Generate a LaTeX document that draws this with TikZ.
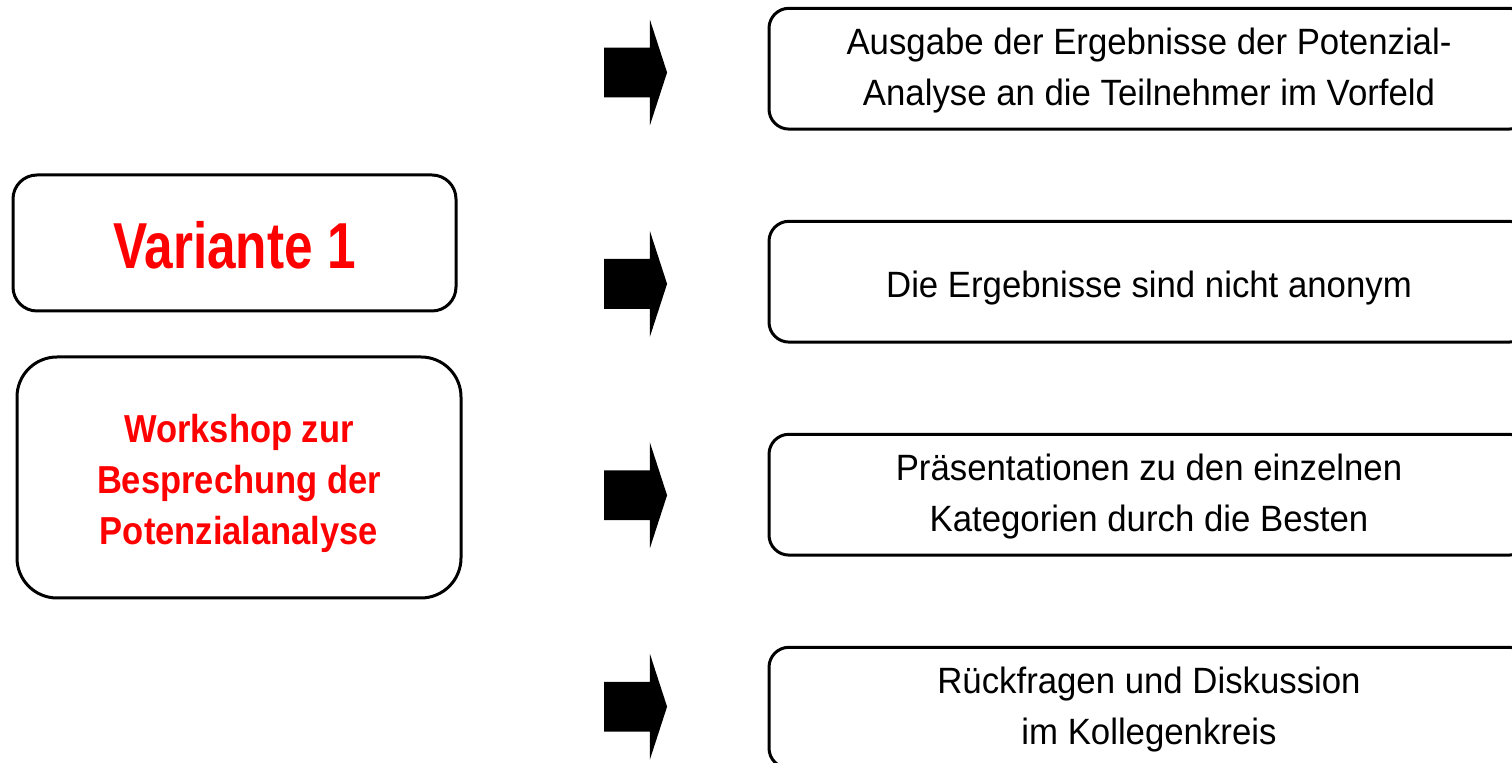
\documentclass[tikz,border=0pt]{standalone}
\usepackage{fontspec}
\setmainfont{Liberation Sans}[FakeStretch=0.95]
\newfontfamily\redfont{Liberation Sans}[FakeStretch=0.79]
\newfontfamily\wsfont{Liberation Sans}[FakeStretch=0.885]
\usetikzlibrary{positioning,shapes.arrows}
\tikzset{stepbox/.style={draw,line width=1.5pt,rounded corners=10pt,minimum width=380pt,minimum height=60.4pt,align=center,text depth=2pt,text height=#1,font=\fontsize{18.3}{25.5}\selectfont},stepbox/.default=39.3pt}
\tikzset{redbox/.style={draw,line width=1.5pt,align=center,text=red}}
\tikzset{blockarrow/.style={single arrow,fill=black,inner xsep=0pt,inner ysep=12.25pt,minimum height=31.5pt,single arrow head extend=14pt,single arrow tip angle=144}}

\begin{document}
\begin{tikzpicture}[node distance=106.5pt,on grid]
        \useasboundingbox (0,0) rectangle (756pt,-381.5pt);
        \node(r1)[stepbox] at (574.5pt,-34.35pt){Ausgabe der Ergebnisse der Potenzial-\\Analyse an die Teilnehmer im Vorfeld};
        \node(r2)[stepbox=18.2pt,below=of r1]{Die Ergebnisse sind nicht anonym};
        \node(r3)[stepbox,below=of r2]{Präsentationen zu den einzelnen\\Kategorien durch die Besten};
        \node(r4)[stepbox,below=of r3]{Rückfragen und Diskussion\\im Kollegenkreis};
        % block arrows in front of the boxes
        \node(a1)[blockarrow,left=50pt of r1.west,yshift=-1.9pt,anchor=tip]{};
        \node(a2)[blockarrow,below=105.7pt of a1.tip,anchor=tip]{};
        \node(a3)[blockarrow,below=105.7pt of a2.tip,anchor=tip]{};
        \node(a4)[blockarrow,below=105.7pt of a3.tip,anchor=tip]{};
        \node(v1)[redbox,rounded corners=12pt,minimum width=221.5pt,minimum height=68pt,text height=25.3pt,text depth=0pt,font=\redfont\bfseries\fontsize{32.5}{39}\selectfont] at (117.25pt,-121.5pt){Variante 1};
        \node(ws)[redbox,rounded corners=20pt,minimum width=222pt,minimum height=120.5pt,text height=69.5pt,text depth=2pt,font=\wsfont\bfseries\fontsize{19.5}{25.5}\selectfont] at (119.5pt,-238.75pt){Workshop zur\\Besprechung der\\Potenzialanalyse};
      \end{tikzpicture}
\end{document}
